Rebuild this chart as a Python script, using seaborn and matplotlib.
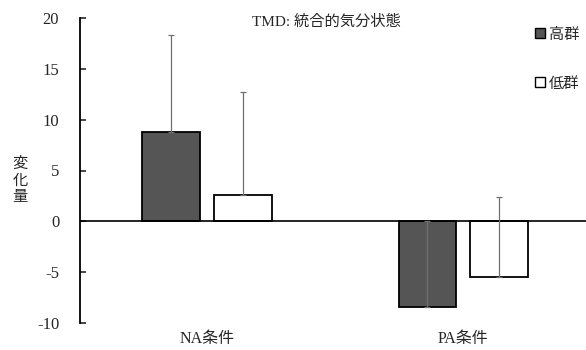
import matplotlib
matplotlib.use("Agg")
import matplotlib.pyplot as plt
from matplotlib.lines import Line2D
import seaborn as sns
import pandas as pd

# data
conditions = ["NA条件", "PA条件"]
groups = ["高群", "低群"]
means_high = [8.8, -8.4]
means_low = [2.6, -5.5]
sd_high = [9.5, 8.4]   # upper side only
sd_low = [10.1, 7.9]
yticks = [-10, -5, 0, 5, 10, 15, 20]

df = pd.DataFrame({
    "condition": conditions * 2,
    "group": [groups[0]] * 2 + [groups[1]] * 2,
    "change": means_high + means_low,
})

sns.set_style("white")
plt.rcParams["font.family"] = ["Liberation Serif", "Noto Sans CJK JP"]

fig = plt.figure(figsize=(5.86, 3.5), dpi=100)
ax = fig.add_axes([80 / 586, 27 / 350, 506 / 586, 305 / 350])

sns.barplot(data=df, x="condition", y="change", hue="group",
            palette=["#555555", "white"], width=0.56, gap=0.2,
            edgecolor="black", linewidth=1.3, errorbar=None,
            legend=False, ax=ax)

# one-sided (upper) error bars
for cont, sds in zip(ax.containers, [sd_high, sd_low]):
    for bar, s in zip(cont, sds):
        x = bar.get_x() + bar.get_width() / 2
        m = bar.get_y() + bar.get_height()
        if m < 0:
            m = bar.get_height()
        ax.errorbar(x, m, yerr=[[0], [s]], fmt="none", ecolor="#707070",
                    elinewidth=0.9, capsize=2.5, capthick=0.9, zorder=4)

ax.axhline(0, color="black", lw=1.2, zorder=3)
ax.set_xlim(-0.496, 1.48)
ax.set_ylim(-10, 20)
ax.set_yticks(yticks)
ax.set_yticklabels([str(t) for t in yticks], fontsize=12)
ax.tick_params(axis="y", direction="in", length=4, width=1.2, pad=15, left=True)
ax.tick_params(axis="x", length=0, labelsize=11.5, pad=6)
ax.set_xlabel("")
ax.set_ylabel("")
sns.despine(ax=ax, bottom=True)
ax.spines["left"].set_linewidth(1.3)
ax.spines["left"].set_color("black")

fig.text(20 / 586, 170 / 350, "変\n化\n量", ha="center", va="center",
         fontsize=11, linespacing=1.0, family=["Noto Sans CJK JP"])
fig.text(326 / 586, 1 - 22 / 350, "TMD: 統合的気分状態", ha="center",
         va="center", fontsize=11)

handles = [Line2D([], [], marker="s", ls="", markersize=7,
                  markerfacecolor=c, markeredgecolor="black")
           for c in ["#555555", "white"]]
fig.legend(handles, groups, loc="upper right",
           bbox_to_anchor=(584 / 586, 1 - 21 / 350), frameon=False,
           handlelength=0.6, handletextpad=0.3, labelspacing=2.1,
           borderaxespad=0, borderpad=0.3,
           prop={"family": ["Noto Sans CJK JP"], "size": 11})

fig.savefig("out.png", dpi=100)
